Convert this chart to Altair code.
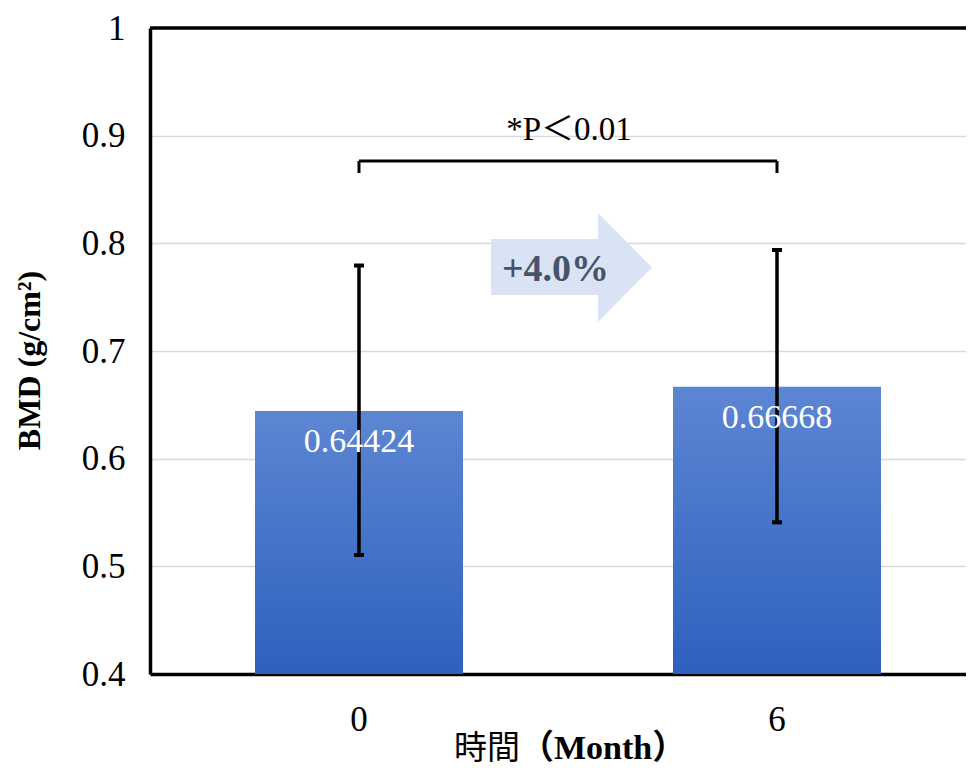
import altair as alt
import pandas as pd

# ---- data ----
months = ["0", "6"]
bmd = [0.64424, 0.66668]
err_low = [0.5105, 0.5409]
err_high = [0.7794, 0.7938]
value_labels = ["0.64424", "0.66668"]

y_ticks = [0.4, 0.5, 0.6, 0.7, 0.8, 0.9, 1.0]
bracket_top = [0.8765]
bracket_bottom = [0.8653]
sig_text = ["*P＜0.01"]
sig_y = [0.9053]
change_text = ["+4.0%"]
change_y = [0.7752]
arrow_y = [0.7776]

df = pd.DataFrame({"Month": months, "BMD": bmd, "low": err_low,
                   "high": err_high, "label": value_labels})

SERIF = "Liberation Serif"
CJK = "Noto Sans CJK JP"
W, H = 816, 646

x_enc = alt.X("Month:N", sort=months,
              scale=alt.Scale(paddingInner=0.50239, paddingOuter=0.2273, align=0.5526),
              axis=alt.Axis(title=None, labelAngle=0, labelFont=SERIF, labelFontSize=35,
                            labelColor="#000000", labelPadding=28, ticks=False, tickSize=0,
                            domainColor="#000000", domainWidth=3.5, grid=False))
y_scale = alt.Scale(domain=[0.4, 1.0], nice=False, zero=False)
y_axis = alt.Axis(values=y_ticks, format="~g", labelFont=SERIF, labelFontSize=35,
                  labelColor="#000000", labelPadding=25, ticks=False, tickSize=0,
                  domainColor="#000000", domainWidth=3.5,
                  gridColor="#d9d9d9", gridWidth=1.5,
                  title="BMD (g/cm²)", titleFont=SERIF, titleFontSize=32,
                  titleFontWeight="bold", titleColor="#000000", titleAngle=270,
                  titleX=-121, titleY=332, titleAlign="center", titleBaseline="middle")

base = alt.Chart(df)

grad = alt.Gradient(gradient="linear",
                    stops=[alt.GradientStop(color="#5d86d2", offset=0),
                           alt.GradientStop(color="#2e60bf", offset=1)],
                    x1=0, x2=0, y1=0, y2=1)

bars = base.mark_bar(color=grad).encode(
    x=x_enc,
    y=alt.Y("BMD:Q", scale=y_scale, axis=y_axis),
    y2=alt.datum(0.4),
)

vals = base.mark_text(font=SERIF, fontSize=34, color="white", baseline="middle", dy=31).encode(
    x=alt.X("Month:N", sort=months), y=alt.Y("BMD:Q"), text="label:N")

err = base.mark_rule(color="black", strokeWidth=3.5).encode(
    x=alt.X("Month:N", sort=months), y="low:Q", y2="high:Q")
cap_lo = base.mark_tick(color="black", thickness=4, size=10, opacity=1).encode(
    x=alt.X("Month:N", sort=months), y="low:Q")
cap_hi = base.mark_tick(color="black", thickness=4, size=10, opacity=1).encode(
    x=alt.X("Month:N", sort=months), y="high:Q")

top_border = alt.Chart(pd.DataFrame({"y": [1.0]})).mark_rule(color="black", strokeWidth=3.5).encode(
    y="y:Q")

br_df = pd.DataFrame({"a": [months[0]], "b": [months[1]], "y": bracket_top})
bracket_h = alt.Chart(br_df).mark_rule(color="black", strokeWidth=3).encode(
    x=alt.X("a:N", sort=months), x2="b:N", y="y:Q")
brv_df = pd.DataFrame({"Month": months, "top": bracket_top * 2, "bottom": bracket_bottom * 2})
bracket_v = alt.Chart(brv_df).mark_rule(color="black", strokeWidth=3).encode(
    x=alt.X("Month:N", sort=months), y="top:Q", y2="bottom:Q")

sig = alt.Chart(pd.DataFrame({"t": sig_text, "y": sig_y})).mark_text(
    font=SERIF + ", " + CJK, fontSize=33, color="black", baseline="middle", align="center").encode(
    x=alt.value(419), y="y:Q", text="t:N")

arrow_path = "M -1 -0.354 L 0.329 -0.354 L 0.329 -0.677 L 1 0 L 0.329 0.677 L 0.329 0.342 L -1 0.342 Z"
arrow = alt.Chart(pd.DataFrame({"y": arrow_y})).mark_point(
    shape=arrow_path, filled=True, color="#dae3f3", opacity=1, size=161 * 161, strokeWidth=0).encode(
    x=alt.value(421.5), y="y:Q")

change = alt.Chart(pd.DataFrame({"t": change_text, "y": change_y})).mark_text(
    font=SERIF, fontSize=38, fontWeight="bold", color="#44546a", baseline="middle", align="center").encode(
    x=alt.value(405.5), y="y:Q", text="t:N")

xt1 = alt.Chart(pd.DataFrame({"t": ["時間"]})).mark_text(
    font=CJK, fontSize=33, color="black", align="right", baseline="middle").encode(
    x=alt.value(370), y=alt.value(721), text="t:N")
xt2 = alt.Chart(pd.DataFrame({"t": ["（Month）"]})).mark_text(
    font=SERIF + ", " + CJK, fontSize=34, fontWeight="bold", color="black",
    align="left", baseline="middle").encode(
    x=alt.value(370), y=alt.value(721), text="t:N")

chart = alt.layer(
    bars, err, cap_lo, cap_hi, vals, top_border, bracket_h, bracket_v, sig, arrow, change, xt1, xt2
).properties(
    width=W, height=H,
    autosize=alt.AutoSizeParams(type="none"),
    padding={"left": 142, "top": 20, "right": 0, "bottom": 96},
    background="white",
).configure_view(stroke=None)

chart.save("out.html", embed_options={"renderer": "svg", "actions": False})
